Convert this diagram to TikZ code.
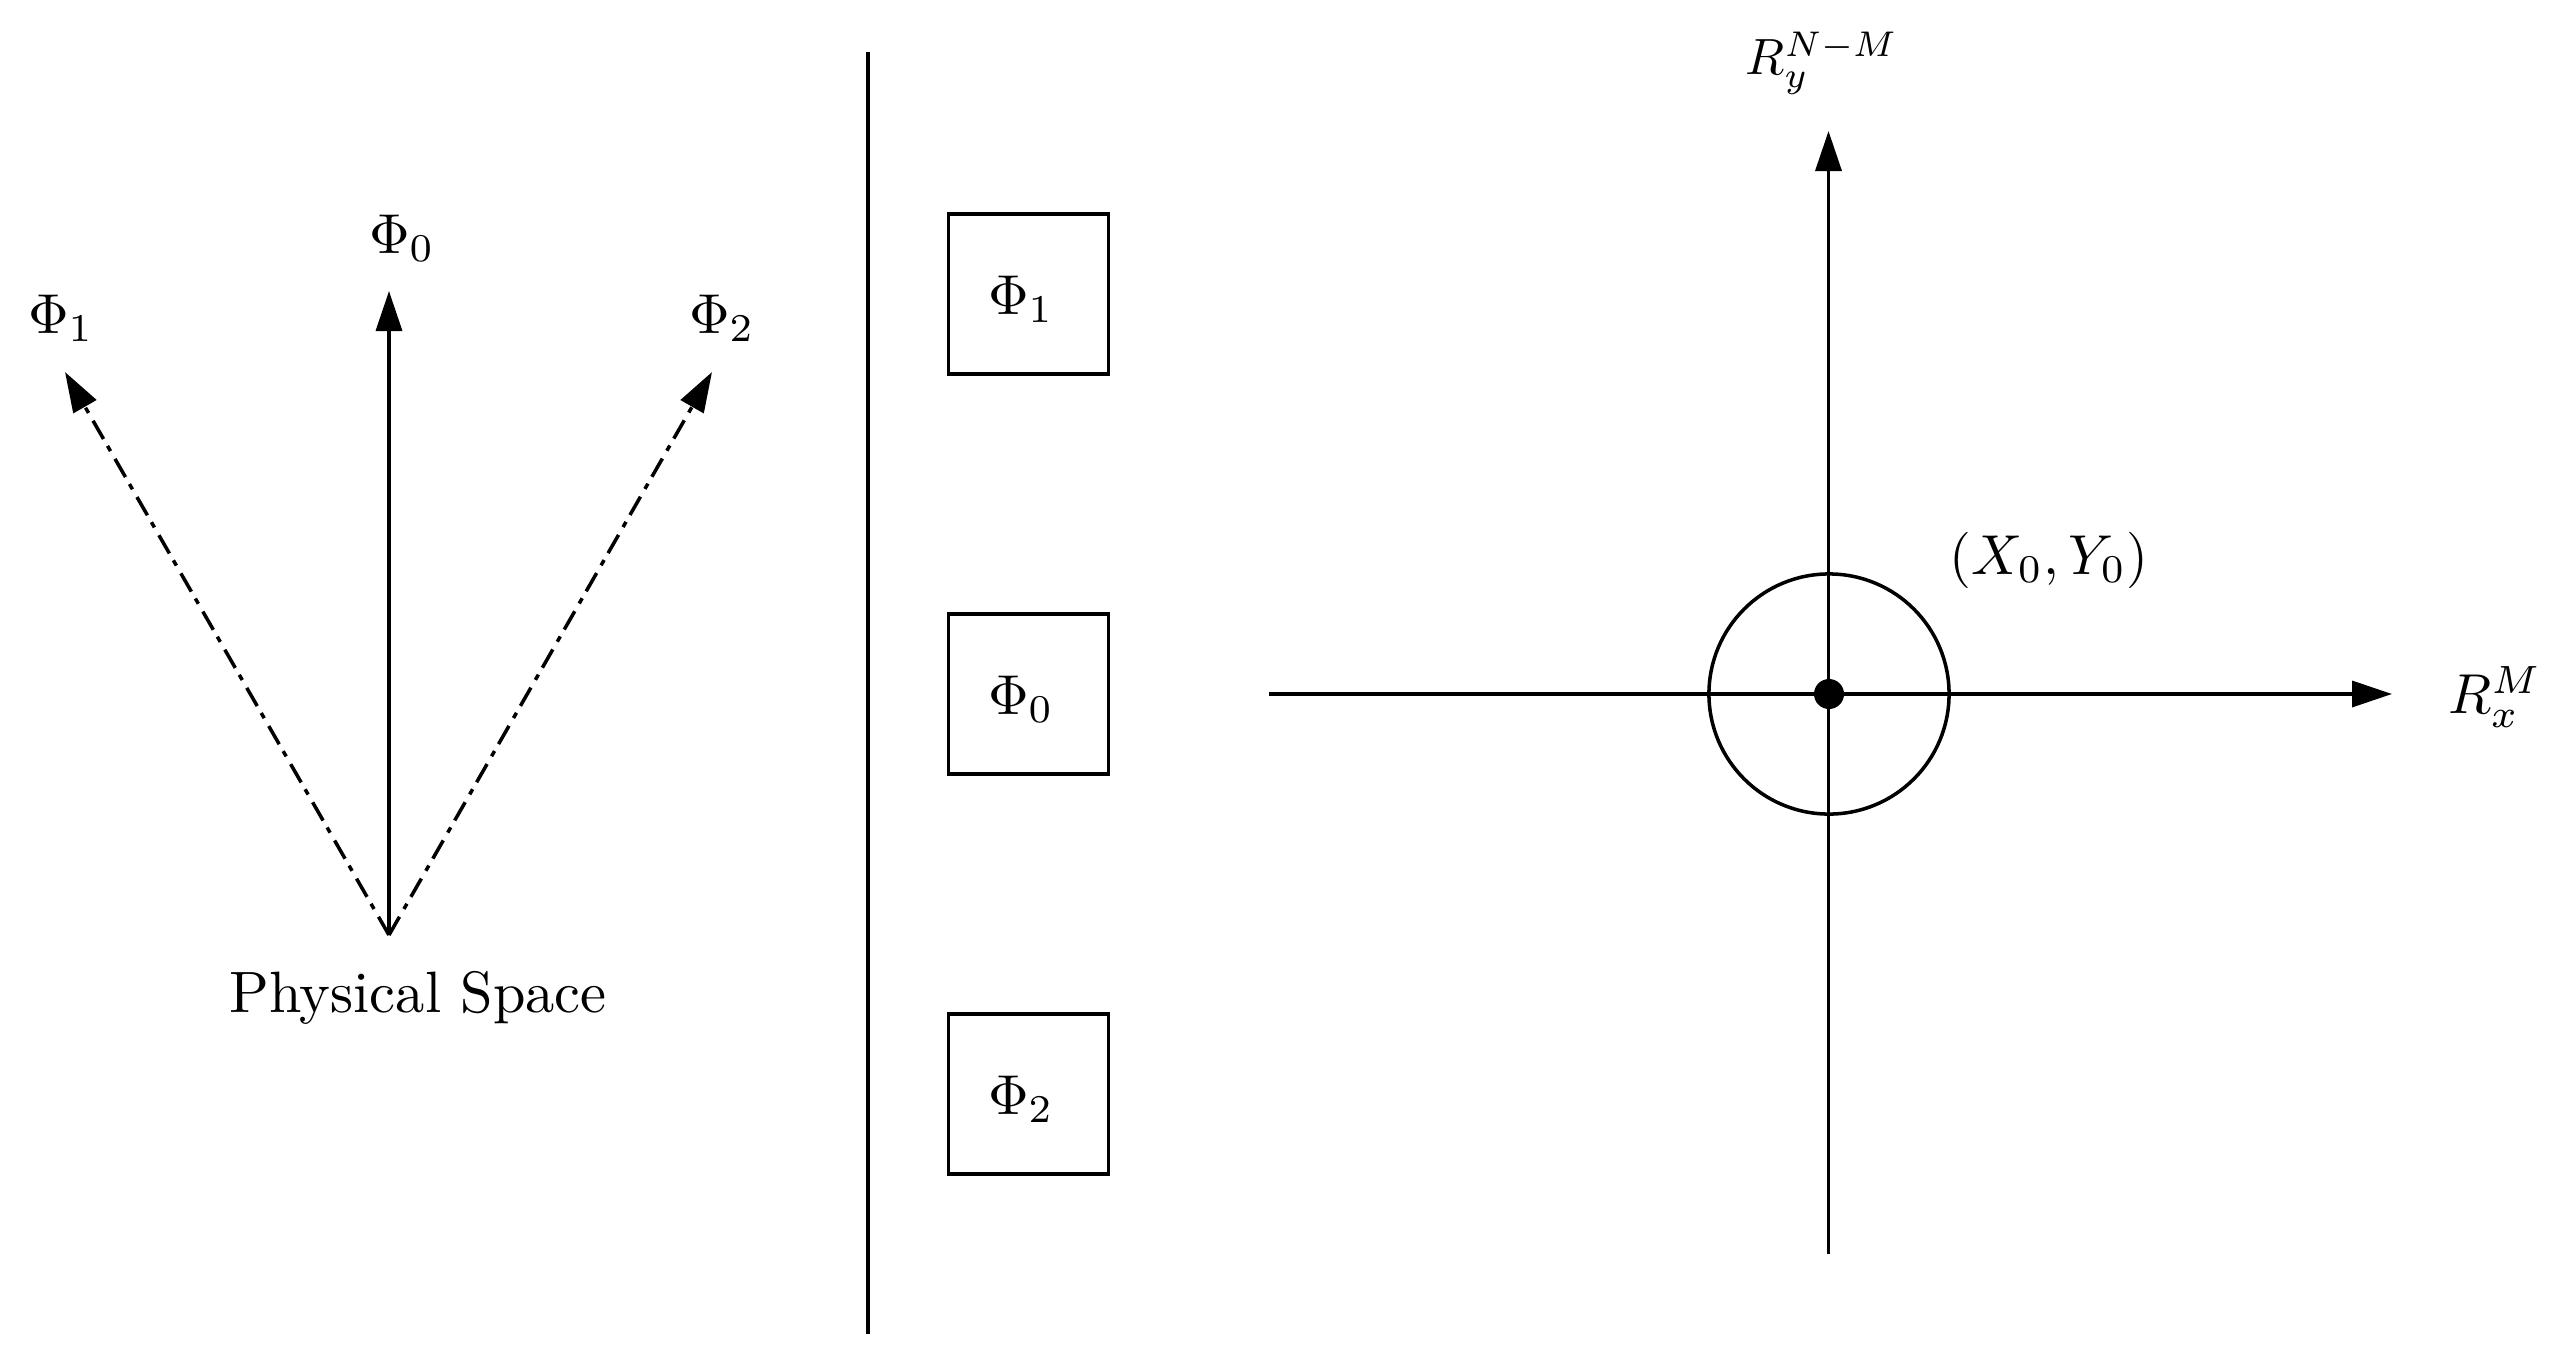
\documentclass[tikz,border=0pt]{standalone}
\usetikzlibrary{arrows.meta}
\newcommand{\sct}[2][1.6]{\scalebox{#1}{#2}}
\tikzset{
  ln/.style={line width=1pt},
  arrowline/.style={ln,-{Triangle[length=0.4cm,width=0.26cm]}},
  dashdot/.style={arrowline,dash pattern=on 0.21cm off 0.09cm on 0.06cm off 0.08cm},
  boxnode/.style={draw,line width=0.9pt,minimum size=1.6cm,inner sep=0pt},
  lab/.style={inner sep=0pt},
}
\begin{document}
\begin{tikzpicture}[x=0.01cm,y=-0.01cm]
\useasboundingbox (0,0) rectangle (2560,1357);
% left part
\coordinate (O) at (389,935);
\coordinate (T0) at (389,291);
\coordinate (T1) at (65,372);
\coordinate (T2) at (712,372);
\draw[arrowline] (O) -- (T0);
\draw[dashdot] (O) -- (T1);
\draw[dashdot] (O) -- (T2);
\node[lab] (l0) at (402,238) {\sct{$\Phi_0$}};
\node[lab] (l1) at (61,318) {\sct{$\Phi_1$}};
\node[lab] (l2) at (722,318) {\sct{$\Phi_2$}};
\node[lab] (phys) at (418,998) {\sct[1.66]{Physical Space}};
% divider
\coordinate (D1) at (868,52);
\coordinate (D2) at (868,1334);
\draw[ln] (D1) -- (D2);
% boxes
\node[boxnode] (b1) at (1028.5,294) {};
\node[boxnode] (b0) at (1028.5,694) {};
\node[boxnode] (b2) at (1028.5,1094) {};
\node[lab] (t1) at (1021,299) {\sct{$\Phi_1$}};
\node[lab] (t0) at (1021,699) {\sct{$\Phi_0$}};
\node[lab] (t2) at (1021,1099) {\sct{$\Phi_2$}};
% axes
\coordinate (XA) at (1269,694);
\coordinate (XB) at (2392,694);
\coordinate (YA) at (1828.5,1254);
\coordinate (YB) at (1828.5,131);
\draw[arrowline] (XA) -- (XB);
\draw[arrowline] (YA) -- (YB);
\node[draw,ln,circle,minimum size=2.4cm,inner sep=0pt] (circ) at (1829,694) {};
\node[fill=black,circle,minimum size=0.3cm,inner sep=0pt] (dot) at (1829,694) {};
\node[lab] (ry) at (1822,63) {\sct[1.45]{$R_y^{N-M}$}};
\node[lab] (rx) at (2495,697) {\sct{$R_x^{M}$}};
\node[lab] (xy) at (2049,560) {\sct{$(X_0,Y_0)$}};
\end{tikzpicture}
\end{document}
